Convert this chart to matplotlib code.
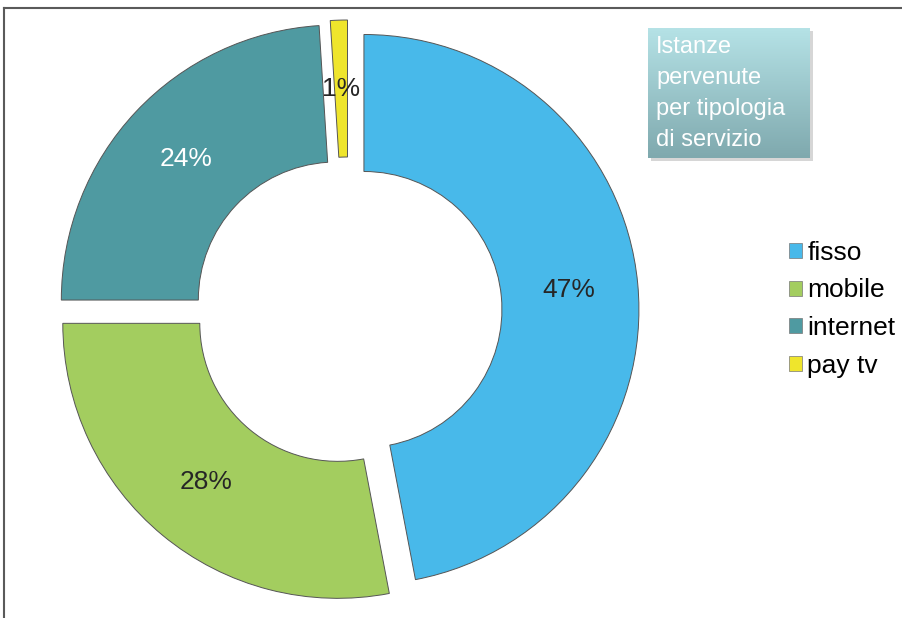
import numpy as np
import matplotlib
matplotlib.use("Agg")
import matplotlib.pyplot as plt
from matplotlib.patches import Rectangle
from matplotlib.lines import Line2D
from matplotlib.colors import LinearSegmentedColormap

plt.rcParams['font.family'] = ['Liberation Sans', 'DejaVu Sans']

# === Data ===
categories = ['fisso', 'mobile', 'internet', 'pay tv']
shares = [47, 28, 24, 1]
colors = ['#48b9ea', '#a3cd5f', '#4f9aa1', '#efe52c']
pct_colors = ['#262626', '#262626', 'white', '#262626']
title_text = "Istanze\npervenute\nper tipologia\ndi servizio"

W, H = 903, 618
fig = plt.figure(figsize=(W / 100, H / 100), dpi=100)
ax = fig.add_axes([0, 0, 1, 1])

wedges, texts, autotexts = ax.pie(
    shares, colors=colors, startangle=90, counterclock=False,
    radius=275, center=(348, H - 311), explode=[16] * 4,
    autopct='%1.0f%%', pctdistance=0.75,
    wedgeprops=dict(width=137, edgecolor='#555555', linewidth=0.7),
    textprops=dict(fontsize=19))
for t, c in zip(autotexts, pct_colors):
    t.set_color(c)

# title box with gradient
bx0, bx1, by0, by1 = 648, 810, H - 158, H - 28
cmap = LinearSegmentedColormap.from_list('box', ['#7fa9ae', '#b5e2e6'])
grad = np.linspace(0, 1, 100).reshape(-1, 1)
ax.add_patch(Rectangle((bx0 + 3, by0 - 3), bx1 - bx0, by1 - by0,
                       facecolor='#d6d6d6', edgecolor='none', zorder=1))
ax.imshow(grad, extent=(bx0, bx1, by0, by1), origin='lower', cmap=cmap,
          aspect='auto', zorder=2)
ax.text(bx0 + 8, by1 - 8, title_text, color='white', fontsize=17,
        va='top', ha='left', linespacing=1.52, zorder=3)

ax.set_xlim(0, W)
ax.set_ylim(0, H)
ax.set_aspect('equal')
ax.axis('off')

# legend
handles = [Rectangle((0, 0), 1, 1, facecolor=c, edgecolor='#777777', linewidth=0.5)
           for c in colors]
fig.legend(handles, categories, loc='upper left',
           bbox_to_anchor=(765 / W, 1 - 217 / H), frameon=False,
           fontsize=19, handlelength=0.5, handleheight=0.5,
           handletextpad=0.2, labelspacing=0.52)

# frame lines
fig.add_artist(Line2D([4 / W, 1], [1 - 8 / H, 1 - 8 / H], color='#5a5a5a', linewidth=1.5))
fig.add_artist(Line2D([4 / W, 4 / W], [0, 1 - 8 / H], color='#5a5a5a', linewidth=1.5))

fig.savefig('out.png', dpi=100)
